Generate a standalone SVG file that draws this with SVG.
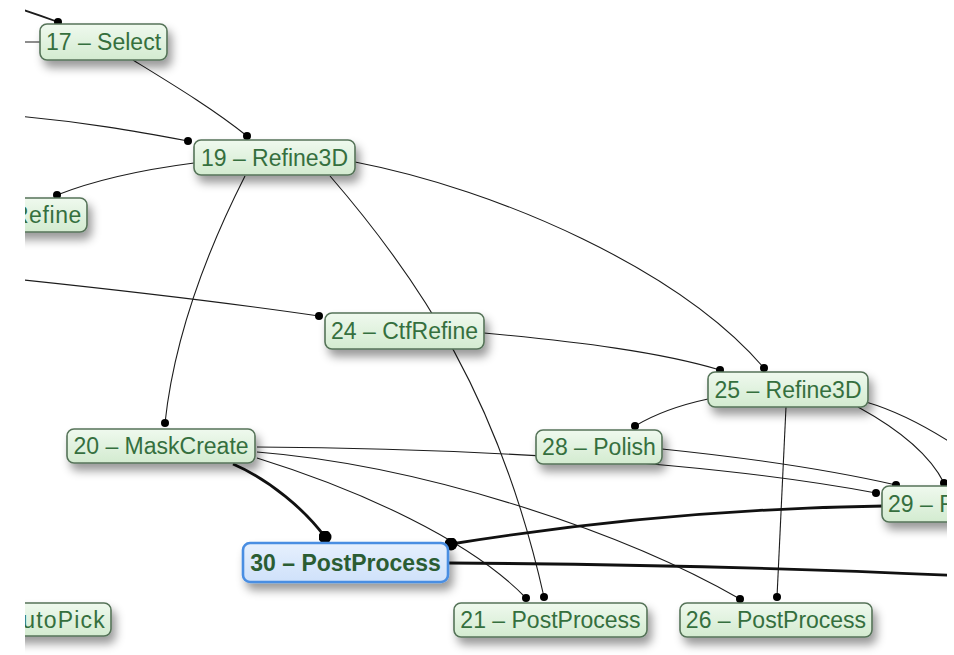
<svg xmlns="http://www.w3.org/2000/svg" width="954" height="655" viewBox="0 0 954 655">
<defs>
<linearGradient id="gGreen" x1="0" y1="0" x2="0" y2="1">
<stop offset="0" stop-color="#eff9ee"/>
<stop offset="1" stop-color="#d3ebd0"/>
</linearGradient>
<linearGradient id="gBlue" x1="0" y1="0" x2="0" y2="1">
<stop offset="0" stop-color="#e6f0fd"/>
<stop offset="1" stop-color="#cfe1fa"/>
</linearGradient>
<filter id="shadow" x="-20%" y="-40%" width="150%" height="220%">
<feDropShadow dx="4" dy="7" stdDeviation="5" flood-color="#000" flood-opacity="0.4"/>
</filter>
<marker id="dot" viewBox="0 0 10 10" refX="5" refY="5" markerWidth="8" markerHeight="8" markerUnits="userSpaceOnUse">
<circle cx="5" cy="5" r="5" fill="#000"/>
</marker>
<marker id="bigdot" viewBox="0 0 10 10" refX="5" refY="5" markerWidth="13" markerHeight="13" markerUnits="userSpaceOnUse">
<circle cx="5" cy="5" r="5" fill="#000"/>
</marker>
<clipPath id="frame"><rect x="25" y="0" width="922" height="655"/></clipPath>
</defs>
<style>
.edge{fill:none;stroke:#1c1c1c;stroke-width:1.1}
.thick{fill:none;stroke:#111;stroke-width:2.8}
.box{fill:url(#gGreen);stroke:#557358;stroke-width:1.6;filter:url(#shadow)}
.sel{fill:url(#gBlue);stroke:#4a8ee2;stroke-width:2.6;filter:url(#shadow)}
.lbl{font-family:"Liberation Sans",Arial,sans-serif;font-size:23px;fill:#356f3e}
.bold{font-weight:bold;fill:#2b5d33}
</style>
<rect x="0" y="0" width="954" height="655" fill="#fff"/>
<g clip-path="url(#frame)">
<g id="connectors">
<path class="edge" style="stroke-width:1.8" d="M 5,4 Q 33,13 58,22" marker-end="url(#dot)"/>
<path class="edge" d="M 5,42 L 41,42"/>
<path class="edge" d="M 133,60 C 172,84 215,110 247,136" marker-end="url(#dot)"/>
<path class="edge" d="M 5,115 C 80,121 140,132 188,141" marker-end="url(#dot)"/>
<path class="edge" d="M 194,163 C 140,170 90,182 57,195" marker-end="url(#dot)"/>
<path class="edge" d="M 245,176 C 210,245 175,330 165,423" marker-end="url(#dot)"/>
<path class="edge" d="M 330,176 C 420,280 500,400 544,597" marker-end="url(#dot)"/>
<path class="edge" d="M 5,278 C 120,290 230,303 319,316" marker-end="url(#dot)"/>
<path class="edge" d="M 355,162 C 500,190 680,270 764,368" marker-end="url(#dot)"/>
<path class="edge" d="M 484,333 C 580,342 660,352 720,370" marker-end="url(#dot)"/>
<path class="edge" d="M 708,399 C 680,405 655,414 635,426" marker-end="url(#dot)"/>
<path class="edge" d="M 786,407 C 783,480 780,540 777,597" marker-end="url(#dot)"/>
<path class="edge" d="M 858,407 C 900,430 930,455 944,483" marker-end="url(#dot)"/>
<path class="edge" d="M 866,402 C 900,412 930,428 965,452"/>
<path class="edge" d="M 662,449 C 750,458 830,470 896,485" marker-end="url(#dot)"/>
<path class="edge" d="M 257,447 C 450,448 700,460 876,493" marker-end="url(#dot)"/>
<path class="edge" d="M 257,452 C 420,465 620,530 740,599" marker-end="url(#dot)"/>
<path class="edge" d="M 257,458 C 360,490 470,540 526,598" marker-end="url(#dot)"/>
<path class="thick" d="M 233,464 C 270,480 305,510 325,537" marker-end="url(#bigdot)"/>
<path class="thick" d="M 884,506 C 750,508 600,520 451,544" marker-end="url(#bigdot)"/>
<path class="thick" d="M 448,563 C 600,564 800,568 965,576"/>
</g>
<g id="node-17">
<rect class="box" x="40" y="24" width="127" height="36" rx="7"/>
<text class="lbl" x="103.5" y="50" text-anchor="middle">17 – Select</text>
</g>
<g id="node-19">
<rect class="box" x="194" y="140" width="161" height="35" rx="7"/>
<text class="lbl" x="274.5" y="165.5" text-anchor="middle">19 – Refine3D</text>
</g>
<g id="node-refine">
<rect class="box" x="-30" y="198" width="117" height="34" rx="7"/>
<text class="lbl" x="82" y="223" text-anchor="end" letter-spacing="0.6">Refine</text>
</g>
<g id="node-24">
<rect class="box" x="325" y="313" width="159" height="36" rx="7"/>
<text class="lbl" x="404.5" y="339" text-anchor="middle">24 – CtfRefine</text>
</g>
<g id="node-25">
<rect class="box" x="708" y="372" width="160" height="35" rx="7"/>
<text class="lbl" x="788" y="397.5" text-anchor="middle">25 – Refine3D</text>
</g>
<g id="node-28">
<rect class="box" x="536" y="430" width="126" height="34" rx="7"/>
<text class="lbl" x="599" y="455" text-anchor="middle">28 – Polish</text>
</g>
<g id="node-29">
<rect class="box" x="882" y="486" width="170" height="36" rx="7"/>
<text class="lbl" x="888" y="512">29 – R</text>
</g>
<g id="node-20">
<rect class="box" x="67" y="429" width="188" height="34" rx="7"/>
<text class="lbl" x="161" y="454" text-anchor="middle">20 – MaskCreate</text>
</g>
<g id="node-30">
<rect class="sel" x="243" y="543" width="205" height="39" rx="7"/>
<text class="lbl bold" x="345.5" y="570.5" text-anchor="middle">30 – PostProcess</text>
</g>
<g id="node-autopick">
<rect class="box" x="-30" y="603" width="141" height="33" rx="7"/>
<text class="lbl" x="106" y="627.5" text-anchor="end" letter-spacing="1.2">AutoPick</text>
</g>
<g id="node-21">
<rect class="box" x="454" y="603" width="193" height="34" rx="7"/>
<text class="lbl" x="550.5" y="628" text-anchor="middle">21 – PostProcess</text>
</g>
<g id="node-26">
<rect class="box" x="680" y="603" width="192" height="34" rx="7"/>
<text class="lbl" x="776" y="628" text-anchor="middle">26 – PostProcess</text>
</g>
</g>
</svg>
